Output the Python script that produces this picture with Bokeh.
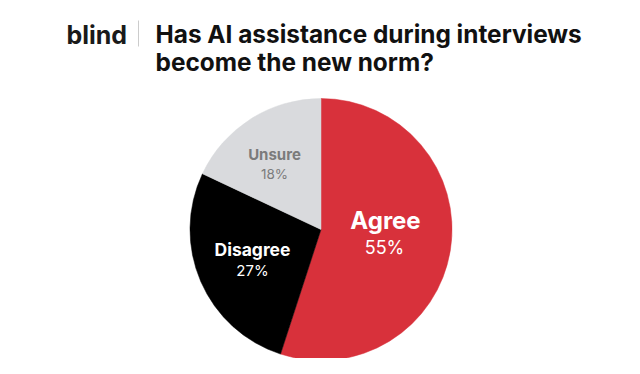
import math
from bokeh.plotting import figure
from bokeh.models import Range1d
from bokeh.core.properties import value
from bokeh.embed import file_html
from bokeh.resources import INLINE

categories = ["Agree", "Disagree", "Unsure"]
shares = [55, 27, 18]
colors = ["#D8313B", "#000000", "#D9DADD"]
label_colors = ["#FFFFFF", "#FFFFFF", "#7B7B7B"]
pct_labels = ["55%", "27%", "18%"]

W, H = 624, 358
p = figure(width=W, height=H, output_backend="svg", toolbar_location=None,
           x_range=Range1d(0, W), y_range=Range1d(0, H), min_border=0)
p.axis.visible = False
p.grid.visible = False
p.outline_line_color = None
p.background_fill_color = "white"

cx, cy, r = 320.5, 129, 131
total = sum(shares)
start = math.pi / 2
starts, ends = [], []
for s in shares:
    end = start - s / total * 2 * math.pi
    starts.append(end)
    ends.append(start)
    start = end
p.wedge(x=[cx] * 3, y=[cy] * 3, radius=r, start_angle=starts, end_angle=ends,
        fill_color=colors, line_color=colors, line_width=0.5)

font = value("Inter")
# label positions (pixels)
name_pos = [(385, 138), (252, 109), (274, 204)]
pct_pos = [(384, 111), (252, 88), (274, 185)]
name_sizes = ["24px", "17.5px", "15px"]
pct_sizes = ["18px", "15px", "13.5px"]
for i in range(3):
    p.text(x=[name_pos[i][0]], y=[name_pos[i][1]], text=[categories[i]],
           text_font=font, text_font_style="bold", text_font_size=name_sizes[i],
           text_color=label_colors[i], text_align="center", text_baseline="middle")
    p.text(x=[pct_pos[i][0]], y=[pct_pos[i][1]], text=[pct_labels[i]],
           text_font=font, text_font_style="normal", text_font_size=pct_sizes[i],
           text_color=label_colors[i], text_align="center", text_baseline="middle")

# header
p.text(x=[66], y=[324], text=["blind"], text_font=font, text_font_style="bold",
       text_font_size="25px", text_color="#1a1a1a", text_align="left", text_baseline="middle")
p.segment(x0=[138], y0=[312], x1=[138], y1=[338], line_color="#cccccc", line_width=1)
p.text(x=[155, 155], y=[325, 297],
       text=["Has AI assistance during interviews", "become the new norm?"],
       text_font=font, text_font_style="bold", text_font_size="24.4px",
       text_color="#111111", text_align="left", text_baseline="middle")

open("out.html", "w").write(file_html(p, INLINE))
